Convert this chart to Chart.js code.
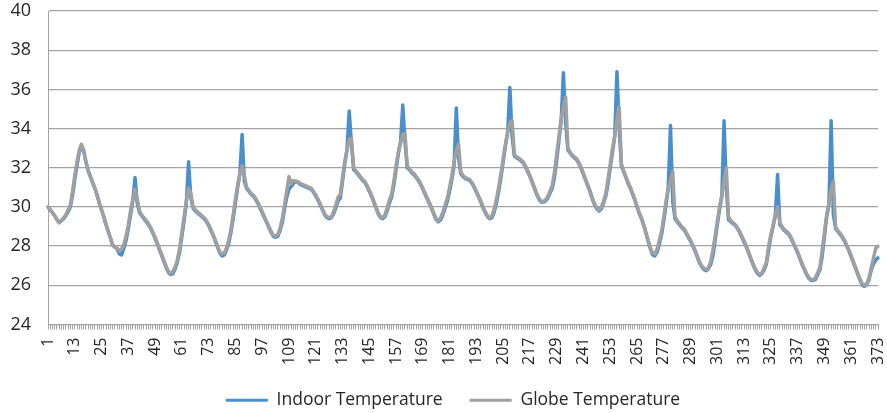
<!DOCTYPE html>
<html>
<head>
<meta charset="utf-8">
<script src="https://cdn.jsdelivr.net/npm/chart.js@4.4.1/dist/chart.umd.min.js"></script>
<style>
  html, body { margin: 0; padding: 0; background: #fff; }
  #wrap { width: 887px; height: 413px; position: relative; }
</style>
</head>
<body>
<div id="wrap"><canvas id="temps"></canvas></div>
<script>
// hourly readings, one row per 12 hours
const indoorTemp = [
  30.0, 29.85, 29.7, 29.55, 29.35, 29.2, 29.3, 29.4, 29.55, 29.75, 30.0, 30.6,
  31.4, 32.1, 32.8, 33.05, 32.85, 32.3, 31.85, 31.55, 31.25, 30.95, 30.6, 30.2,
  29.85, 29.5, 29.1, 28.75, 28.4, 28.05, 27.95, 27.85, 27.6, 27.55, 27.9, 28.3,
  28.9, 29.6, 30.3, 31.5, 30.2, 29.7, 29.55, 29.4, 29.25, 29.1, 28.9, 28.65,
  28.4, 28.1, 27.8, 27.5, 27.2, 26.9, 26.65, 26.55, 26.6, 26.85, 27.2, 27.7,
  28.5, 29.3, 30.2, 32.3, 30.5, 29.95, 29.8, 29.7, 29.6, 29.5, 29.4, 29.25,
  29.05, 28.8, 28.55, 28.25, 27.95, 27.65, 27.5, 27.55, 27.8, 28.15, 28.7, 29.4,
  30.2, 31.0, 31.7, 33.7, 31.3, 30.95, 30.8, 30.65, 30.55, 30.4, 30.2, 29.95,
  29.7, 29.45, 29.2, 28.95, 28.7, 28.5, 28.45, 28.5, 28.8, 29.2, 29.9, 30.5,
  30.9, 31.05, 31.2, 31.3, 31.25, 31.15, 31.1, 31.05, 31.0, 30.95, 30.9, 30.75,
  30.55, 30.35, 30.1, 29.85, 29.6, 29.45, 29.4, 29.45, 29.65, 29.95, 30.3, 30.45,
  31.3, 32.2, 32.9, 34.9, 33.2, 31.9, 31.8, 31.65, 31.5, 31.35, 31.25, 31.05,
  30.8, 30.55, 30.25, 29.95, 29.65, 29.45, 29.4, 29.5, 29.8, 30.2, 30.5, 31.1,
  31.9, 32.7, 33.3, 35.2, 33.3, 32.0, 31.9, 31.75, 31.65, 31.5, 31.35, 31.15,
  30.9, 30.65, 30.4, 30.15, 29.9, 29.6, 29.35, 29.25, 29.35, 29.6, 29.95, 30.3,
  30.8, 31.4, 32.1, 35.05, 32.5, 31.7, 31.55, 31.45, 31.4, 31.35, 31.2, 31.0,
  30.75, 30.5, 30.25, 29.95, 29.7, 29.5, 29.4, 29.45, 29.75, 30.2, 30.8, 31.5,
  32.3, 33.1, 33.8, 36.1, 33.6, 32.6, 32.5, 32.45, 32.35, 32.25, 32.05, 31.8,
  31.55, 31.25, 30.95, 30.65, 30.4, 30.25, 30.25, 30.3, 30.45, 30.7, 30.95, 31.5,
  32.4, 33.4, 34.4, 36.85, 34.3, 32.9, 32.75, 32.6, 32.5, 32.4, 32.2, 31.95,
  31.65, 31.35, 31.05, 30.75, 30.4, 30.1, 29.9, 29.8, 29.9, 30.2, 30.55, 31.2,
  32.0, 32.8, 33.6, 36.9, 34.0, 32.1, 31.8, 31.5, 31.2, 30.95, 30.65, 30.35,
  30.0, 29.65, 29.4, 29.05, 28.65, 28.25, 27.85, 27.55, 27.5, 27.7, 28.1, 28.6,
  29.3, 30.1, 31.0, 34.15, 30.3, 29.4, 29.25, 29.1, 28.95, 28.85, 28.65, 28.45,
  28.25, 28.0, 27.75, 27.45, 27.15, 26.95, 26.8, 26.75, 26.85, 27.05, 27.5, 28.3,
  29.1, 29.9, 30.5, 34.4, 31.0, 29.35, 29.25, 29.15, 29.05, 28.9, 28.7, 28.45,
  28.2, 27.95, 27.65, 27.35, 27.05, 26.8, 26.6, 26.5, 26.6, 26.8, 27.1, 27.8,
  28.5, 29.0, 29.6, 31.65, 29.1, 28.95, 28.8, 28.7, 28.6, 28.4, 28.15, 27.9,
  27.65, 27.35, 27.05, 26.8, 26.55, 26.35, 26.25, 26.25, 26.3, 26.55, 26.8, 27.5,
  28.5, 29.5, 30.1, 34.4, 29.6, 28.9, 28.75, 28.6, 28.45, 28.25, 28.0, 27.75,
  27.45, 27.15, 26.85, 26.55, 26.25, 26.0, 25.95, 26.05, 26.3, 26.8, 27.1, 27.3,
  27.4
];

const globeTemp = [
  30.0, 29.85, 29.7, 29.55, 29.35, 29.2, 29.3, 29.45, 29.6, 29.85, 30.1, 30.8,
  31.6, 32.3, 32.9, 33.2, 32.9, 32.3, 31.85, 31.55, 31.25, 30.95, 30.6, 30.2,
  29.85, 29.5, 29.1, 28.75, 28.4, 28.05, 27.95, 27.9, 27.75, 27.85, 28.1, 28.5,
  29.1, 29.8, 30.4, 30.9, 30.4, 29.8, 29.6, 29.45, 29.3, 29.15, 28.95, 28.7,
  28.45, 28.15, 27.85, 27.55, 27.25, 26.95, 26.7, 26.6, 26.7, 26.95, 27.3, 27.9,
  28.7, 29.5, 30.3, 30.95, 30.7, 30.0, 29.85, 29.75, 29.65, 29.55, 29.45, 29.3,
  29.1, 28.85, 28.6, 28.3, 28.0, 27.7, 27.6, 27.65, 27.9, 28.3, 28.85, 29.6,
  30.4, 31.1, 31.7, 32.1, 31.6, 31.0, 30.85, 30.7, 30.6, 30.45, 30.25, 30.0,
  29.75, 29.5, 29.25, 29.0, 28.75, 28.55, 28.5, 28.6, 28.9, 29.4, 30.1, 30.8,
  31.55, 31.2, 31.35, 31.3, 31.3, 31.2, 31.15, 31.1, 31.05, 31.0, 30.95, 30.8,
  30.6, 30.4, 30.15, 29.9, 29.65, 29.5, 29.45, 29.5, 29.75, 30.1, 30.5, 30.65,
  31.5, 32.3, 32.9, 33.45, 33.5, 32.0, 31.85, 31.7, 31.55, 31.4, 31.3, 31.1,
  30.85, 30.6, 30.3, 30.0, 29.7, 29.5, 29.45, 29.6, 29.95, 30.35, 30.65, 31.3,
  32.1, 32.8, 33.3, 33.7, 33.75, 32.1, 31.95, 31.8, 31.7, 31.55, 31.4, 31.2,
  30.95, 30.7, 30.45, 30.2, 29.95, 29.65, 29.4, 29.3, 29.45, 29.75, 30.1, 30.45,
  31.0, 31.6, 32.3, 32.9, 33.2, 31.8, 31.6, 31.5, 31.45, 31.4, 31.25, 31.05,
  30.8, 30.55, 30.3, 30.0, 29.75, 29.55, 29.45, 29.55, 29.9, 30.4, 31.0, 31.7,
  32.5, 33.2, 33.8, 34.3, 34.4, 32.7, 32.55, 32.5, 32.4, 32.3, 32.1, 31.85,
  31.6, 31.3, 31.0, 30.7, 30.45, 30.3, 30.28, 30.35, 30.55, 30.8, 31.1, 31.8,
  32.7, 33.6, 34.5, 35.1, 35.6, 33.0, 32.8, 32.65, 32.55, 32.45, 32.25, 32.0,
  31.7, 31.4, 31.1, 30.8, 30.45, 30.15, 29.95, 29.85, 30.0, 30.3, 30.7, 31.4,
  32.2, 33.0, 33.6, 34.5, 35.1, 32.2, 31.85, 31.55, 31.25, 31.0, 30.7, 30.4,
  30.05, 29.7, 29.45, 29.1, 28.7, 28.3, 27.9, 27.65, 27.6, 27.85, 28.3, 28.75,
  29.5, 30.3, 30.9, 31.4, 31.8, 29.5, 29.3, 29.15, 29.0, 28.9, 28.7, 28.5,
  28.3, 28.05, 27.8, 27.5, 27.2, 27.0, 26.85, 26.8, 26.9, 27.2, 27.8, 28.5,
  29.3, 30.0, 30.6, 31.3, 32.0, 29.5, 29.3, 29.2, 29.1, 28.95, 28.75, 28.5,
  28.25, 28.0, 27.7, 27.4, 27.1, 26.85, 26.65, 26.55, 26.65, 26.9, 27.2, 28.0,
  28.6, 29.1, 29.6, 30.0, 29.2, 29.0, 28.85, 28.75, 28.65, 28.45, 28.2, 27.95,
  27.7, 27.4, 27.1, 26.85, 26.6, 26.4, 26.3, 26.28, 26.4, 26.65, 26.95, 27.8,
  28.7, 29.6, 30.2, 30.9, 31.3, 28.95, 28.8, 28.65, 28.5, 28.3, 28.05, 27.8,
  27.5, 27.2, 26.9, 26.6, 26.3, 26.05, 26.0, 26.1, 26.4, 26.9, 27.4, 27.9,
  28.0
];

// x axis: hour numbers, a label every 12th one
const hours = [];
for (let h = 1; h <= globeTemp.length; h++) hours.push(String(h));
const labelStep = 12;

const yMin = 24;
const yMax = 40;
const yStep = 2;

const textColor = '#262626';
const gridColor = '#a3a3a3';
const font = 'Open Sans';

const ctx = document.getElementById('temps').getContext('2d');
const chart = new Chart(ctx, {
  type: 'line',
  data: {
    labels: hours,
    datasets: [{
      label: 'Indoor Temperature',
      data: indoorTemp,
      borderColor: '#4a8fcd',
      backgroundColor: '#4a8fcd',
      order: 1
    }, {
      label: 'Globe Temperature',
      data: globeTemp,
      borderColor: '#a0a0a0',
      backgroundColor: '#a0a0a0',
      order: 0 // grey line sits on top of the blue one
    }]
  },
  options: {
    responsive: true,
    maintainAspectRatio: false,
    animation: false,
    layout: { padding: { left: 10, right: -9, top: 11, bottom: -6 } },
    elements: {
      line: { borderWidth: 3.5, tension: 0, borderJoinStyle: 'round', borderCapStyle: 'round' },
      point: { radius: 0, hoverRadius: 0 }
    },
    plugins: {
      tooltip: { enabled: false },
      legend: {
        position: 'bottom',
        labels: {
          color: textColor,
          font: { family: font, size: 17.5 },
          boxWidth: 42,
          boxHeight: 3,
          padding: 27,
          generateLabels: (c) => c.data.datasets.map((ds, i) => ({
            text: ds.label,
            fillStyle: ds.borderColor,
            strokeStyle: ds.borderColor,
            lineWidth: 0,
            fontColor: textColor,
            hidden: false,
            datasetIndex: i
          }))
        }
      }
    },
    scales: {
      x: {
        offset: false,
        grid: { drawOnChartArea: false, drawTicks: true, tickLength: 5, color: gridColor },
        border: { color: gridColor },
        ticks: {
          autoSkip: false,
          minRotation: 90,
          maxRotation: 90,
          padding: 8,
          color: textColor,
          font: { family: font, size: 16 },
          callback: (v, i) => (i % labelStep === 0 ? hours[i] : '')
        },
        afterFit: (s) => { s.height = 40; s.paddingLeft = 0; s.paddingRight = 9; }
      },
      y: {
        min: yMin,
        max: yMax,
        grid: { color: gridColor, drawTicks: false, lineWidth: 1.3 },
        border: { color: gridColor },
        ticks: {
          stepSize: yStep,
          padding: 17,
          color: textColor,
          font: { family: font, size: 18 }
        },
        afterFit: (s) => { s.width = 38; s.paddingTop = 0; s.paddingBottom = 0; }
      }
    }
  }
});
</script>
</body>
</html>
